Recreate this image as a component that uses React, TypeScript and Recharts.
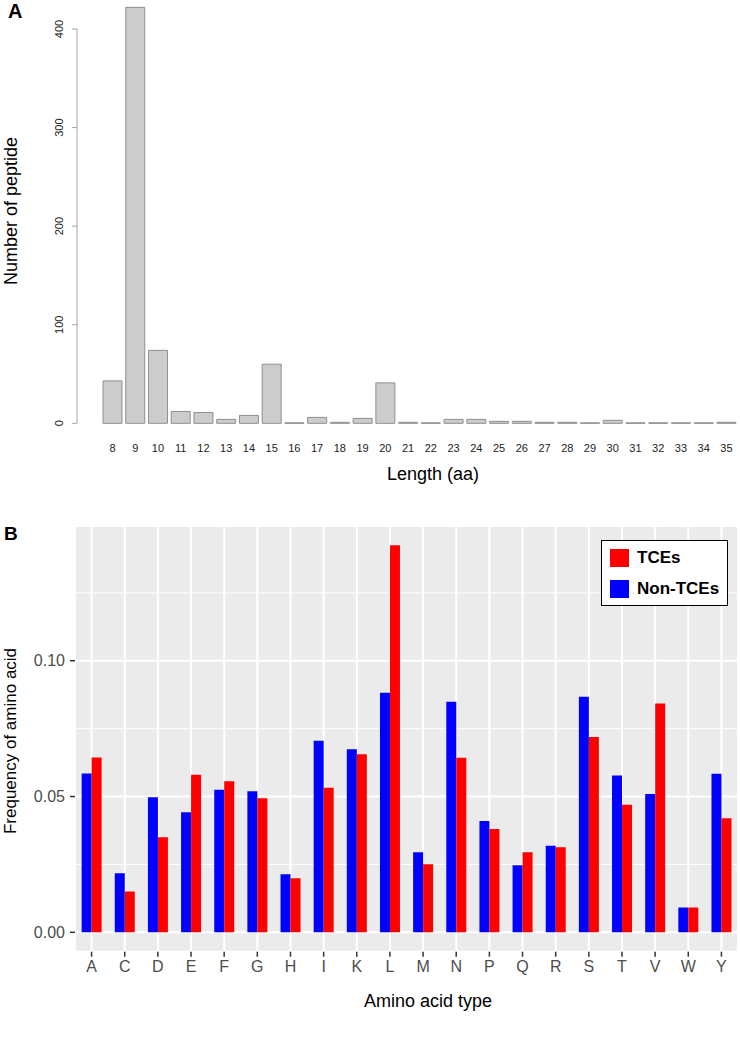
import React from 'react';
import { BarChart, Bar, XAxis, YAxis, CartesianGrid, Legend } from 'recharts';

// ---------- Panel A data ----------
const lengthLabels = ['8', '9', '10', '11', '12', '13', '14', '15', '16', '17', '18', '19', '20', '21', '22', '23', '24', '25', '26', '27', '28', '29', '30', '31', '32', '33', '34', '35'];
const peptideCounts = [43, 422, 74, 12, 11, 4, 8, 60, 0, 6, 1, 5, 41, 1, 0, 4, 4, 2, 2, 1, 1, 0, 3, 0, 0, 0, 0, 1];
const countTicks = [0, 100, 200, 300, 400];

// ---------- Panel B data ----------
const aminoAcids = ['A', 'C', 'D', 'E', 'F', 'G', 'H', 'I', 'K', 'L', 'M', 'N', 'P', 'Q', 'R', 'S', 'T', 'V', 'W', 'Y'];
const tceFreq = [0.0644, 0.0150, 0.0350, 0.0580, 0.0556, 0.0494, 0.0199, 0.0532, 0.0656, 0.1425, 0.0251, 0.0643, 0.0380, 0.0295, 0.0313, 0.0719, 0.0470, 0.0842, 0.0091, 0.0420];
const nonTceFreq = [0.0585, 0.0217, 0.0497, 0.0442, 0.0525, 0.0519, 0.0214, 0.0705, 0.0674, 0.0882, 0.0295, 0.0849, 0.0410, 0.0247, 0.0319, 0.0867, 0.0577, 0.0509, 0.0091, 0.0584];
const freqTicks = [0, 0.05, 0.1];
const freqMinorTicks = [0.025, 0.075, 0.125];

const FONT = '"Liberation Sans", Arial, Helvetica, sans-serif';

const dataA = lengthLabels.map((len, i) => ({ len, count: peptideCounts[i] }));
const dataB = aminoAcids.map((aa, i) => ({ aa, tce: tceFreq[i], nonTce: nonTceFreq[i] }));

// Panel A y scale layout (R-style axis spanning only the tick range)
const A_DOMAIN: [number, number] = [-16.94, 427.4];
const A_PLOT_TOP = 2;
const A_PLOT_BOTTOM = 440;
const aPxPerUnit = (A_PLOT_BOTTOM - A_PLOT_TOP) / (A_DOMAIN[1] - A_DOMAIN[0]);
const aAxisGap = (A_DOMAIN[1] - countTicks[countTicks.length - 1]) * aPxPerUnit;
const aAxisLen = (countTicks[countTicks.length - 1] - countTicks[0]) * aPxPerUnit;

// Panel B y scale layout
const B_DOMAIN: [number, number] = [-0.00714, 0.1496];
const B_PLOT_TOP = 36;
const B_PLOT_BOTTOM = 461.7;
const bScale = (v: number) =>
  B_PLOT_BOTTOM - ((v - B_DOMAIN[0]) / (B_DOMAIN[1] - B_DOMAIN[0])) * (B_PLOT_BOTTOM - B_PLOT_TOP);

const minorGridGenerator = (props: any) => {
  const s = props && props.yAxis && typeof props.yAxis.scale === 'function' ? props.yAxis.scale : null;
  return freqMinorTicks.map((v) => (s ? s(v) : bScale(v)));
};

const CountTick = (props: any) => {
  const { x, y, payload } = props;
  return (
    <text x={x} y={y} transform={`rotate(-90 ${x} ${y})`} textAnchor="middle" fontSize={11} fill="#222" fontFamily={FONT}>
      {payload.value}
    </text>
  );
};

const LenTick = (props: any) => {
  const { x, y, payload } = props;
  return (
    <text x={x} y={y} textAnchor="middle" fontSize={11} fill="#222" fontFamily={FONT}>
      {payload.value}
    </text>
  );
};

const LegendBox = (props: any) => {
  const items = [...(props.payload || [])].reverse();
  return (
    <div
      style={{
        boxSizing: 'border-box',
        width: 127,
        height: 66,
        border: '1px solid #000',
        background: '#fff',
        padding: '8px 0 0 8px',
        fontFamily: FONT,
      }}
    >
      {items.map((it: any, i: number) => (
        <div key={it.value} style={{ display: 'flex', alignItems: 'center', height: 18, marginBottom: i === 0 ? 13 : 0 }}>
          <span style={{ display: 'inline-block', width: 19, height: 18, background: it.color }} />
          <span style={{ marginLeft: 8, fontWeight: 'bold', fontSize: 17, color: '#000', lineHeight: '18px' }}>{it.value}</span>
        </div>
      ))}
    </div>
  );
};

export default function App() {
  return (
    <div style={{ position: 'absolute', left: 0, top: 0, width: 740, height: 1040, background: '#fff', overflow: 'hidden' }}>
      <div style={{ position: 'absolute', left: 0, top: 0 }}>
        <BarChart
          width={740}
          height={490}
          data={dataA}
          margin={{ top: A_PLOT_TOP, right: 2.2, bottom: 0, left: 0 }}
          barCategoryGap={1.9}
        >
          <XAxis
            dataKey="len"
            height={490 - A_PLOT_BOTTOM}
            axisLine={false}
            tickLine={false}
            tickSize={0}
            tickMargin={11.6}
            interval={0}
            padding={{ left: 24.1, right: 0 }}
            tick={<LenTick />}
          />
          <YAxis
            width={77}
            domain={A_DOMAIN}
            allowDataOverflow
            ticks={countTicks}
            interval={0}
            tickSize={5}
            tickMargin={8.7}
            tickLine={{ stroke: '#a6a6a6', strokeWidth: 1 }}
            axisLine={{ stroke: '#a6a6a6', strokeWidth: 1, strokeDasharray: `0 ${aAxisGap} ${aAxisLen} 3000` }}
            tick={<CountTick />}
          />
          <Bar dataKey="count" fill="#cccccc" stroke="#8f8f8f" strokeWidth={1} minPointSize={0.5} isAnimationActive={false} />
        </BarChart>
      </div>

      <div style={{ position: 'absolute', left: 0, top: 490 }}>
        <BarChart
          width={740}
          height={550}
          data={dataB}
          margin={{ top: B_PLOT_TOP, right: 2, bottom: 0, left: 0 }}
          barCategoryGap="20%"
          barGap={0}
        >
          <CartesianGrid fill="#EBEBEB" fillOpacity={1} stroke="#FFFFFF" strokeWidth={2} />
          <CartesianGrid
            vertical={false}
            stroke="#FFFFFF"
            strokeWidth={1}
            horizontalCoordinatesGenerator={minorGridGenerator}
          />
          <XAxis
            dataKey="aa"
            height={550 - B_PLOT_BOTTOM}
            axisLine={false}
            interval={0}
            tickSize={5}
            tickMargin={4}
            tickLine={{ stroke: '#333333', strokeWidth: 1.5 }}
            tick={{ fontSize: 16, fill: '#4D4D4D', fontFamily: FONT }}
          />
          <YAxis
            width={75}
            domain={B_DOMAIN}
            allowDataOverflow
            ticks={freqTicks}
            interval={0}
            tickFormatter={(v: number) => v.toFixed(2)}
            axisLine={false}
            tickSize={5}
            tickMargin={5}
            tickLine={{ stroke: '#333333', strokeWidth: 1.5 }}
            tick={{ fontSize: 16, fill: '#4D4D4D', fontFamily: FONT }}
          />
          <Bar dataKey="nonTce" name="Non-TCEs" fill="#0000FF" isAnimationActive={false} />
          <Bar dataKey="tce" name="TCEs" fill="#FF0000" isAnimationActive={false} />
          <Legend
            layout="vertical"
            align="center"
            verticalAlign="middle"
            content={<LegendBox />}
            wrapperStyle={{ position: 'absolute', left: 601, top: 50, width: 127, height: 66 }}
          />
        </BarChart>
      </div>

      <svg
        width={740}
        height={1040}
        style={{ position: 'absolute', left: 0, top: 0, pointerEvents: 'none' }}
        fontFamily={FONT}
      >
        <text x={8} y={18} fontSize={20} fontWeight="bold" fill="#000">A</text>
        <text transform="translate(16.5,211) rotate(-90)" textAnchor="middle" fontSize={18} fill="#000">Number of peptide</text>
        <text x={433} y={480} textAnchor="middle" fontSize={18} fill="#000">Length (aa)</text>
        <text x={4} y={540} fontSize={19} fontWeight="bold" fill="#000">B</text>
        <text transform="translate(16,741) rotate(-90)" textAnchor="middle" fontSize={17} fill="#000">Frequency of amino acid</text>
        <text x={428} y={1007} textAnchor="middle" fontSize={18} fill="#000">Amino acid type</text>
      </svg>
    </div>
  );
}
